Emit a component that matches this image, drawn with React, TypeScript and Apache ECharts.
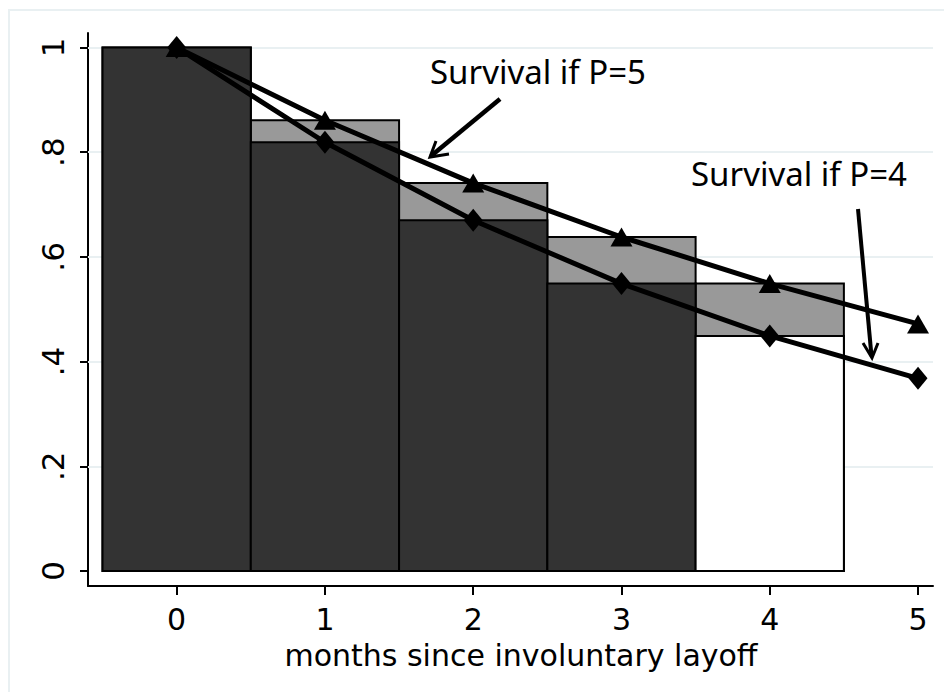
import React, { useEffect, useRef } from "react";
import * as echarts from "echarts";

// ---- data ----
const MONTHS = [0, 1, 2, 3, 4, 5];
const SURVIVAL_P5 = [1, 0.861, 0.741, 0.638, 0.549, 0.472];
const SURVIVAL_P4 = [1, 0.819, 0.67, 0.549, 0.449, 0.368];
const BAR_MONTHS = [0, 1, 2, 3, 4];
const BAR_FILLS_FRONT = ["#333333", "#333333", "#333333", "#333333", "#ffffff"];
const X_TICKS = [0, 1, 2, 3, 4, 5];
const X_TICK_LABELS = ["0", "1", "2", "3", "4", "5"];
const Y_TICKS = [0, 0.2, 0.4, 0.6, 0.8, 1];
const Y_TICK_LABELS = ["0", ".2", ".4", ".6", ".8", "1"];
const GRID_LINES = [0.2, 0.4, 0.6, 0.8, 1];
const X_TITLE = "months since involuntary layoff";
const NOTE_P5 = "Survival if P=5";
const NOTE_P4 = "Survival if P=4";

const AXIS_FONT = "DejaVu Sans";
const NOTE_FONT = "Noto Sans";

function barRenderer(fills: string[]) {
  return (params: any, api: any) => {
    const x = api.value(0);
    const v = api.value(1);
    const p0 = api.coord([x - 0.5, 0]);
    const p1 = api.coord([x + 0.5, v]);
    return {
      type: "rect",
      shape: { x: p0[0], y: p1[1], width: p1[0] - p0[0], height: p0[1] - p1[1] },
      style: { fill: fills[params.dataIndex], stroke: "#000", lineWidth: 2 },
    };
  };
}

export default function App() {
  const ref = useRef<HTMLDivElement>(null);
  useEffect(() => {
    if (!ref.current) return;
    const chart = echarts.init(ref.current, null, { renderer: "svg" });
    const labelFor = (ticks: number[], labels: string[]) => (val: number) => {
      const i = ticks.findIndex((t) => Math.abs(t - val) < 1e-9);
      return i >= 0 ? labels[i] : "";
    };
    chart.setOption({
      animation: false,
      backgroundColor: "#ffffff",
      grid: { left: 88, top: 33, width: 845, height: 553, containLabel: false },
      xAxis: {
        type: "value",
        min: -0.598,
        max: 5.101,
        axisLine: { show: true, onZero: false, lineStyle: { color: "#000", width: 2 } },
        axisTick: { show: true, customValues: X_TICKS, length: 9, lineStyle: { color: "#000", width: 2 } },
        axisLabel: {
          show: true,
          customValues: X_TICKS,
          formatter: labelFor(X_TICKS, X_TICK_LABELS),
          color: "#000",
          fontFamily: AXIS_FONT,
          fontSize: 30,
          lineHeight: 24,
          margin: 21.5,
        },
        splitLine: { show: false },
      },
      yAxis: {
        type: "value",
        min: -0.0287,
        max: 1.0277,
        axisLine: { show: true, onZero: false, lineStyle: { color: "#000", width: 2 } },
        axisTick: { show: true, customValues: Y_TICKS, length: 8, lineStyle: { color: "#000", width: 2 } },
        axisLabel: {
          show: true,
          customValues: Y_TICKS,
          formatter: labelFor(Y_TICKS, Y_TICK_LABELS),
          rotate: 90,
          color: "#000",
          fontFamily: AXIS_FONT,
          fontSize: 31,
          lineHeight: 24,
          margin: 23,
        },
        splitLine: { show: false },
      },
      series: [
        {
          type: "custom",
          name: "P5 bars",
          z: 2,
          renderItem: barRenderer(BAR_MONTHS.map(() => "#999999")),
          data: BAR_MONTHS.map((m) => [m, SURVIVAL_P5[MONTHS.indexOf(m)]]),
          markLine: {
            silent: true,
            z: 1,
            symbol: "none",
            label: { show: false },
            lineStyle: { color: "#e9f0f2", width: 2, type: "solid" },
            emphasis: { disabled: true },
            data: GRID_LINES.map((v) => ({ yAxis: v })),
          },
        },
        {
          type: "custom",
          name: "P4 bars",
          z: 3,
          renderItem: barRenderer(BAR_FILLS_FRONT),
          data: BAR_MONTHS.map((m) => [m, SURVIVAL_P4[MONTHS.indexOf(m)]]),
        },
        {
          type: "line",
          name: "P=5",
          z: 4,
          data: MONTHS.map((m, i) => [m, SURVIVAL_P5[i]]),
          symbol: "triangle",
          symbolSize: [22, 19],
          lineStyle: { color: "#000", width: 5 },
          itemStyle: { color: "#000" },
        },
        {
          type: "line",
          name: "P=4",
          z: 4,
          data: MONTHS.map((m, i) => [m, SURVIVAL_P4[i]]),
          symbol: "diamond",
          symbolSize: [19, 23],
          lineStyle: { color: "#000", width: 5 },
          itemStyle: { color: "#000" },
        },
      ],
      graphic: [
        {
          type: "rect",
          silent: true,
          z: 0,
          shape: { x: 9, y: 10, width: 1000, height: 1000 },
          style: { fill: "none", stroke: "#e9f0f2", lineWidth: 2 },
        },
        {
          type: "text",
          z: 10,
          x: 521,
          y: 655.5,
          style: {
            text: X_TITLE,
            fill: "#000",
            font: `30px '${AXIS_FONT}'`,
            lineHeight: 24,
            textAlign: "center",
            textVerticalAlign: "middle",
          },
        },
        {
          type: "text",
          z: 10,
          x: 430,
          y: 71,
          style: {
            text: NOTE_P5,
            fill: "#000",
            font: `33px '${NOTE_FONT}'`,
            textAlign: "left",
            textVerticalAlign: "middle",
          },
        },
        {
          type: "text",
          z: 10,
          x: 691,
          y: 173,
          style: {
            text: NOTE_P4,
            fill: "#000",
            font: `33px '${NOTE_FONT}'`,
            textAlign: "left",
            textVerticalAlign: "middle",
          },
        },
        {
          type: "line",
          z: 10,
          shape: { x1: 500, y1: 99, x2: 431, y2: 156 },
          style: { stroke: "#000", lineWidth: 4.5 },
        },
        {
          type: "polyline",
          z: 10,
          shape: { points: [[436, 141], [430, 157], [449, 154]] },
          style: { stroke: "#000", lineWidth: 3, fill: "none" },
        },
        {
          type: "line",
          z: 10,
          shape: { x1: 858, y1: 209, x2: 871.5, y2: 356 },
          style: { stroke: "#000", lineWidth: 4 },
        },
        {
          type: "polyline",
          z: 10,
          shape: { points: [[863, 343], [872, 358], [878, 343]] },
          style: { stroke: "#000", lineWidth: 3, fill: "none" },
        },
      ],
    });
    return () => chart.dispose();
  }, []);
  return (
    <div
      ref={ref}
      style={{ position: "fixed", left: 0, top: 0, width: 944, height: 692, background: "#fff" }}
    />
  );
}
